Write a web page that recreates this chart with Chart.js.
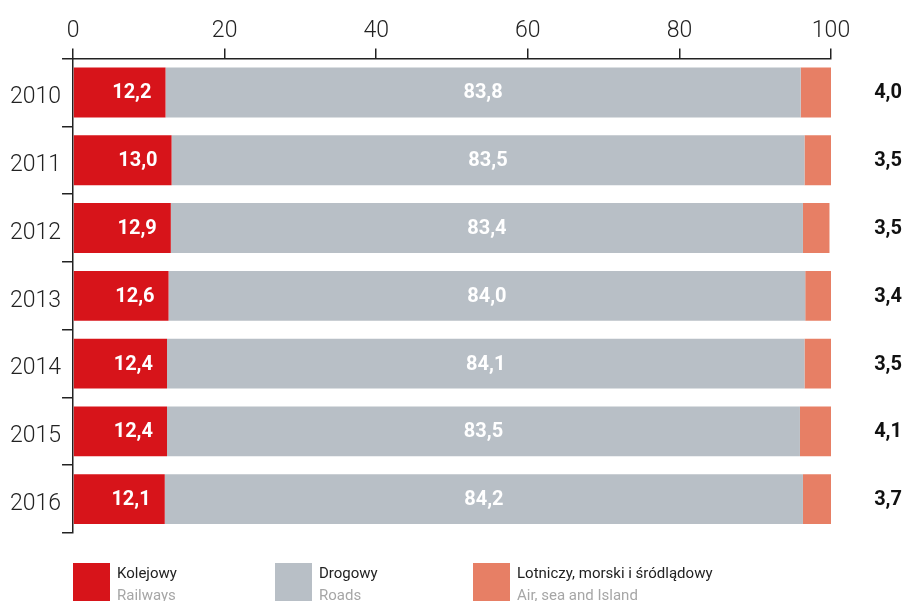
<!DOCTYPE html>
<html>
<head>
<meta charset="utf-8">
<script src="https://cdn.jsdelivr.net/npm/chart.js@4.4.0/dist/chart.umd.min.js"></script>
<style>
  html, body { margin: 0; padding: 0; background: #fff; }
  #wrap { width: 904px; height: 601px; position: relative; }
</style>
</head>
<body>
<div id="wrap"><canvas id="canvas"></canvas></div>
<script>
var years = ['2010', '2011', '2012', '2013', '2014', '2015', '2016'];
var railways = [12.2, 13.0, 12.9, 12.6, 12.4, 12.4, 12.1];
var roads = [83.8, 83.5, 83.4, 84.0, 84.1, 83.5, 84.2];
var airSea = [4.0, 3.5, 3.5, 3.4, 3.5, 4.1, 3.7];
var seriesNamesPl = ['Kolejowy', 'Drogowy', 'Lotniczy, morski i śródlądowy'];
var seriesNamesEn = ['Railways', 'Roads', 'Air, sea and Island'];
var xTicks = [0, 20, 40, 60, 80, 100];

var colors = ['#d7141a', '#b8bfc6', '#e77f65'];
var fontFamily = 'Roboto, "Open Sans", sans-serif';

function fmt(v) {
	return v.toFixed(1).replace('.', ',');
}

// value labels: inside red (right aligned), centred on grey, outside right for the last one
var valueLabels = {
	id: 'valueLabels',
	afterDatasetsDraw: function(chart) {
		var ctx = chart.ctx;
		ctx.save();
		ctx.font = 'bold 20px ' + fontFamily;
		ctx.textBaseline = 'middle';
		chart.data.datasets.forEach(function(ds, di) {
			var meta = chart.getDatasetMeta(di);
			meta.data.forEach(function(bar, i) {
				var txt = fmt(ds.data[i]);
				if (di == 0) {
					ctx.fillStyle = '#fff';
					ctx.textAlign = 'right';
					ctx.fillText(txt, bar.x - 14, bar.y + 1);
				} else if (di == 1) {
					ctx.fillStyle = '#fff';
					ctx.textAlign = 'center';
					ctx.fillText(txt, (bar.x + bar.base) / 2, bar.y + 1);
				} else {
					ctx.fillStyle = '#111';
					ctx.textAlign = 'right';
					ctx.fillText(txt, chart.width - 2, bar.y + 1);
				}
			});
		});
		ctx.restore();
	}
};

// bottom legend with polish + english names
var twoLineLegend = {
	id: 'twoLineLegend',
	afterDraw: function(chart) {
		var ctx = chart.ctx;
		var xs = [73, 275, 473];
		ctx.save();
		for (var k = 0; k < seriesNamesPl.length; k++) {
			ctx.fillStyle = colors[k];
			ctx.fillRect(xs[k], 563, 37, 38);
			ctx.textAlign = 'left';
			ctx.textBaseline = 'alphabetic';
			ctx.font = '15px ' + fontFamily;
			ctx.fillStyle = '#222';
			ctx.fillText(seriesNamesPl[k], xs[k] + 44, 578);
			ctx.fillStyle = '#a6a6a6';
			ctx.fillText(seriesNamesEn[k], xs[k] + 44, 600);
		}
		ctx.restore();
	}
};

var ctx = document.getElementById('canvas').getContext('2d');
window.myBar = new Chart(ctx, {
	type: 'bar',
	data: {
		labels: years,
		datasets: [
			{ label: seriesNamesPl[0], data: railways, backgroundColor: colors[0], borderWidth: 0 },
			{ label: seriesNamesPl[1], data: roads, backgroundColor: colors[1], borderWidth: 0 },
			{ label: seriesNamesPl[2], data: airSea, backgroundColor: colors[2], borderWidth: 0 }
		]
	},
	plugins: [valueLabels, twoLineLegend],
	options: {
		indexAxis: 'y',
		responsive: true,
		maintainAspectRatio: false,
		animation: false,
		categoryPercentage: 0.735,
		barPercentage: 1.0,
		layout: { padding: { left: 9, right: 73, top: 13, bottom: 68 } },
		plugins: {
			legend: { display: false },
			tooltip: { enabled: false }
		},
		scales: {
			x: {
				position: 'top',
				stacked: true,
				min: 0,
				max: 100,
				afterBuildTicks: function(scale) {
					scale.ticks = xTicks.map(function(v) { return { value: v }; });
				},
				grid: {
					drawOnChartArea: false,
					drawTicks: true,
					tickLength: 10,
					color: '#222',
					lineWidth: 1.5
				},
				border: { display: true, color: '#222', width: 1.5 },
				ticks: {
					color: '#222',
					padding: 4,
					font: { family: fontFamily, size: 23, weight: '300' }
				}
			},
			y: {
				stacked: true,
				grid: {
					offset: true,
					drawOnChartArea: false,
					drawTicks: true,
					tickLength: 11,
					color: '#222',
					lineWidth: 1.5
				},
				border: { display: true, color: '#222', width: 1.5 },
				ticks: {
					color: '#222',
					padding: 1,
					labelOffset: 5,
					font: { family: fontFamily, size: 23, weight: '300' }
				}
			}
		}
	}
});
</script>
</body>
</html>
